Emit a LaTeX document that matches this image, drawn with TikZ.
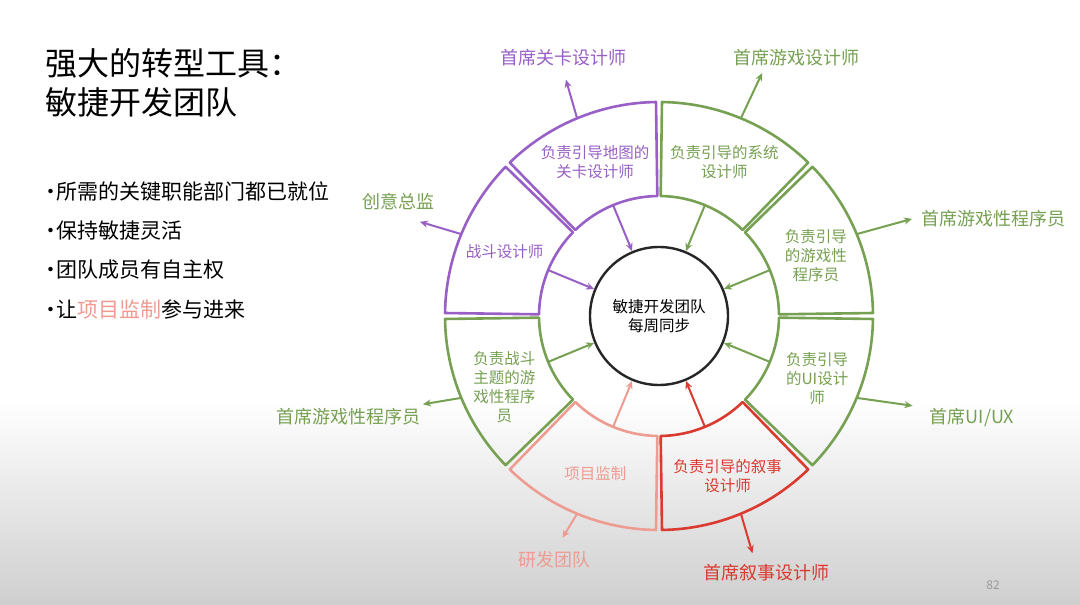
\documentclass[tikz,border=0pt]{standalone}
\usepackage{fontspec}
\setmainfont{Noto Sans CJK SC}
\usetikzlibrary{arrows.meta,positioning}

\definecolor{lvpurple}{RGB}{152,96,198}
\definecolor{lvgreen}{RGB}{118,160,82}
\definecolor{lvred}{RGB}{218,58,48}
\definecolor{lvpink}{RGB}{238,156,146}

\tikzset{seg/.style={line width=2.6pt, line join=round},
link/.style={line width=2pt, -{Stealth[length=8pt,width=7pt]}},
hub/.style={circle, draw=black!85, line width=2.4pt, minimum size=138pt,
  align=center, font=\fontsize{15.5}{19}\selectfont},
ringtext/.style={align=center, inner sep=0pt, font=\fontsize{15.5}{19}\selectfont},
lead/.style={inner sep=0pt, font=\fontsize{18}{22}\selectfont},
title/.style={anchor=west, align=left, inner sep=0pt, font=\fontsize{32}{39}\selectfont},
point/.style={anchor=west, inner sep=0pt, font=\fontsize{21}{25}\selectfont}
}

\begin{document}
\begin{tikzpicture}[x=1pt, y=1pt]
  \useasboundingbox (0,0) rectangle (1080,605);
  \fill[white] (0,0) rectangle (1080,605);
  \shade[top color=white, bottom color=black!19] (0,0) rectangle (1080,205);

  % left column
  \node[title] (title) at (45,522) {强大的转型工具：\\敏捷开发团队};
  \node[point] (p1) at (46,413) {\makebox[10pt]{·}所需的关键职能部门都已就位};
  \node[point, below=39pt of p1.west, anchor=west] (p2) {\makebox[10pt]{·}保持敏捷灵活};
  \node[point, below=39pt of p2.west, anchor=west] (p3) {\makebox[10pt]{·}团队成员有自主权};
  \node[point, below=39pt of p3.west, anchor=west] (p4) {\makebox[10pt]{·}让\textcolor{lvpink}{项目监制}参与进来};
  \node[font=\fontsize{12}{14}\selectfont, text=black!40] (page) at (993,20) {82};

  % outer leads
  \node[lead, text=lvpurple] (leadlvl) at (563,547) {首席关卡设计师};
  \node[lead, text=lvgreen]  (leadcd)  at (398,403) {创意总监};
  \node[lead, text=lvgreen]  (leadgd)  at (796,547) {首席游戏设计师};
  \node[lead, text=lvgreen]  (leadgpr) at (993,386) {首席游戏性程序员};
  \node[lead, text=lvgreen]  (leadui)  at (972,188) {首席UI/UX};
  \node[lead, text=lvred]    (leadnar) at (766,32)  {首席叙事设计师};
  \node[lead, text=lvpink]   (leaddev) at (554,45)  {研发团队};
  \node[lead, text=lvgreen]  (leadcgp) at (348,188) {首席游戏性程序员};

  \begin{scope}[shift={(659,289)}]
    \node[hub] (hub) at (0,0) {敏捷开发团队\\每周同步};

    % ring segments
    \draw[seg, lvpurple] (90.8:120pt) -- (90.8:214pt) arc[start angle=90.8, end angle=134.2, radius=214pt]
      -- (134.2:120pt) arc[start angle=134.2, end angle=90.8, radius=120pt] -- cycle;
    \draw[seg, lvpurple] (135.8:120pt) -- (135.8:214pt) arc[start angle=135.8, end angle=179.2, radius=214pt]
      -- (179.2:120pt) arc[start angle=179.2, end angle=135.8, radius=120pt] -- cycle;
    \draw[seg, lvgreen] (45.8:120pt) -- (45.8:214pt) arc[start angle=45.8, end angle=89.2, radius=214pt]
      -- (89.2:120pt) arc[start angle=89.2, end angle=45.8, radius=120pt] -- cycle;
    \draw[seg, lvgreen] (0.8:120pt) -- (0.8:214pt) arc[start angle=0.8, end angle=44.2, radius=214pt]
      -- (44.2:120pt) arc[start angle=44.2, end angle=0.8, radius=120pt] -- cycle;
    \draw[seg, lvgreen] (-44.2:120pt) -- (-44.2:214pt) arc[start angle=-44.2, end angle=-0.8, radius=214pt]
      -- (-0.8:120pt) arc[start angle=-0.8, end angle=-44.2, radius=120pt] -- cycle;
    \draw[seg, lvred] (-89.2:120pt) -- (-89.2:214pt) arc[start angle=-89.2, end angle=-45.8, radius=214pt]
      -- (-45.8:120pt) arc[start angle=-45.8, end angle=-89.2, radius=120pt] -- cycle;
    \draw[seg, lvpink] (-134.2:120pt) -- (-134.2:214pt) arc[start angle=-134.2, end angle=-90.8, radius=214pt]
      -- (-90.8:120pt) arc[start angle=-90.8, end angle=-134.2, radius=120pt] -- cycle;
    \draw[seg, lvgreen] (180.8:120pt) -- (180.8:214pt) arc[start angle=180.8, end angle=224.2, radius=214pt]
      -- (224.2:120pt) arc[start angle=224.2, end angle=180.8, radius=120pt] -- cycle;

    % segment texts
    \node[ringtext, text=lvpurple] (lvl) at (112.5:167pt) {负责引导地图的\\关卡设计师};
    \node[ringtext, text=lvpurple] (cmb) at (157.5:167pt) {战斗设计师};
    \node[ringtext, text=lvgreen]  (sys) at (67:167pt)    {负责引导的系统\\设计师};
    \node[ringtext, text=lvgreen]  (gpr) at (21:168pt)    {负责引导\\的游戏性\\程序员};
    \node[ringtext, text=lvgreen]  (ui)  at (-21.5:170pt) {负责引导\\的UI设计\\师};
    \node[ringtext, text=lvred]    (nar) at (-66.8:174pt) {负责引导的叙事\\设计师};
    \node[ringtext, text=lvpink]   (prd) at (-112:170pt)  {项目监制};
    \node[ringtext, text=lvgreen]  (cgp) at (204.6:170pt) {负责战斗\\主题的游\\戏性程序\\员};

    % inner and outer ends
    \coordinate (ilvl) at (112.5:120pt); \coordinate (olvl) at (112.5:214pt); \coordinate (tlvl) at (111.5:254pt);
    \coordinate (icmb) at (157.5:120pt); \coordinate (ocmb) at (157.5:214pt); \coordinate (tcmb) at (158.5:257pt);
    \coordinate (isys) at (67.5:120pt);  \coordinate (osys) at (67.5:214pt);  \coordinate (tsys) at (67:264pt);
    \coordinate (igpr) at (22.5:120pt);  \coordinate (ogpr) at (22.5:214pt);  \coordinate (tgpr) at (21:271pt);
    \coordinate (iui)  at (-22.5:120pt); \coordinate (oui)  at (-22.5:214pt); \coordinate (tui)  at (-19.5:269pt);
    \coordinate (inar) at (-67.5:120pt); \coordinate (onar) at (-67.5:214pt); \coordinate (tnar) at (-68.5:255pt);
    \coordinate (iprd) at (-112.5:120pt);\coordinate (oprd) at (-112.5:214pt);\coordinate (tprd) at (-113.5:242pt);
    \coordinate (icgp) at (202.5:120pt); \coordinate (ocgp) at (202.5:214pt); \coordinate (tcgp) at (200.5:252pt);

    \draw[link, lvpurple] (ilvl) -- (hub);
    \draw[link, lvpurple] (icmb) -- (hub);
    \draw[link, lvgreen]  (isys) -- (hub);
    \draw[link, lvgreen]  (igpr) -- (hub);
    \draw[link, lvgreen]  (iui)  -- (hub);
    \draw[link, lvred]    (inar) -- (hub);
    \draw[link, lvpink]   (iprd) -- (hub);
    \draw[link, lvgreen]  (icgp) -- (hub);

    \draw[link, lvpurple] (olvl) -- (tlvl);
    \draw[link, lvpurple] (ocmb) -- (tcmb);
    \draw[link, lvgreen]  (osys) -- (tsys);
    \draw[link, lvgreen]  (ogpr) -- (tgpr);
    \draw[link, lvgreen]  (oui)  -- (tui);
    \draw[link, lvred]    (onar) -- (tnar);
    \draw[link, lvpink]   (oprd) -- (tprd);
    \draw[link, lvgreen]  (ocgp) -- (tcgp);
  \end{scope}
\end{tikzpicture}
\end{document}
